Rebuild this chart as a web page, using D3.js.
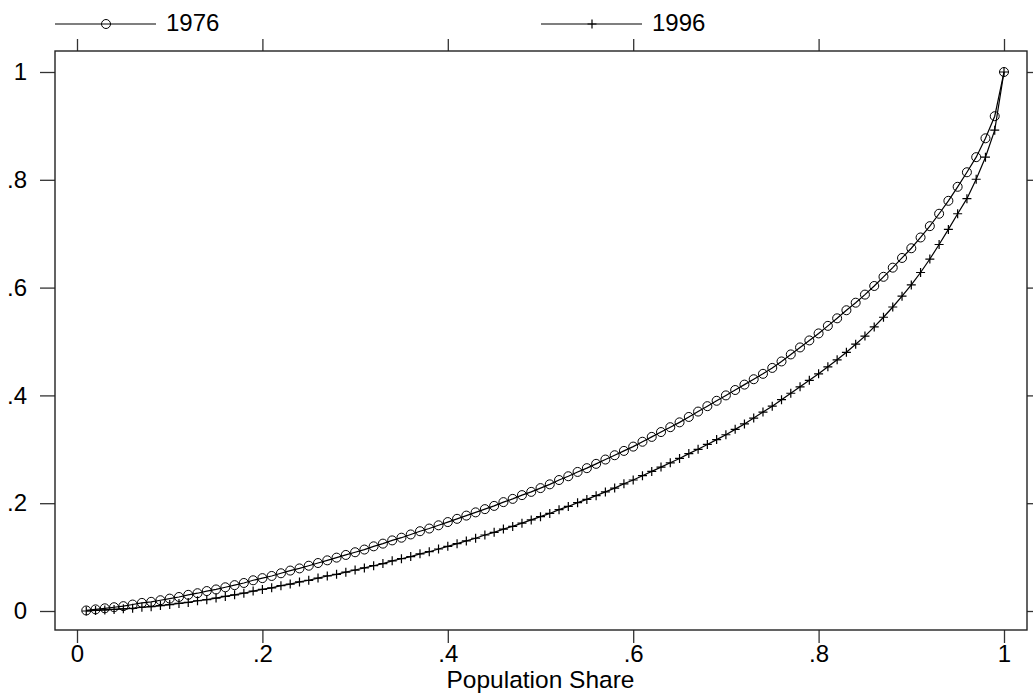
<!DOCTYPE html>
<html>
<head>
<meta charset="utf-8">
<script src="https://cdn.jsdelivr.net/npm/d3@7/dist/d3.min.js"></script>
<style>
  body { margin: 0; background: #fff; }
  text { font-family: "Liberation Sans", Arial, sans-serif; fill: #000; }
</style>
</head>
<body>
<div id="chart"></div>
<script>
// population shares, 0.01 .. 1.00
var popShare = d3.range(1, 101).map(function(i) { return i / 100; });

var share1976 = [
  .001, .003, .005, .007, .009, .012, .015, .017, .020, .023,
  .026, .030, .033, .037, .040, .044, .048, .052, .057, .061,
  .065, .070, .075, .079, .084, .089, .094, .099, .104, .109,
  .114, .120, .125, .131, .136, .142, .148, .153, .159, .165,
  .171, .177, .183, .189, .195, .202, .208, .215, .221, .228,
  .235, .243, .250, .258, .265, .273, .281, .289, .297, .305,
  .314, .323, .332, .341, .350, .360, .370, .380, .390, .400,
  .410, .420, .430, .440, .451, .463, .476, .489, .502, .515,
  .529, .543, .558, .572, .587, .603, .620, .637, .655, .673,
  .693, .714, .737, .761, .787, .814, .842, .877, .918, 1.000
];

var share1996 = [
  .000, .001, .002, .003, .004, .005, .007, .008, .010, .012,
  .014, .016, .019, .021, .024, .027, .030, .033, .037, .040,
  .043, .047, .050, .054, .057, .061, .065, .068, .072, .076,
  .080, .084, .088, .093, .097, .101, .106, .110, .115, .120,
  .125, .130, .135, .141, .146, .152, .157, .163, .169, .175,
  .181, .188, .194, .201, .207, .214, .221, .228, .236, .243,
  .251, .259, .267, .275, .283, .292, .300, .309, .318, .327,
  .337, .347, .358, .369, .380, .392, .404, .416, .428, .440,
  .453, .466, .480, .495, .510, .527, .545, .564, .584, .605,
  .628, .653, .680, .708, .737, .765, .801, .842, .892, 1.000
];

var seriesNames = ['1976', '1996'];
var tickVals = [0, .2, .4, .6, .8, 1];
var xTitle = 'Population Share';

var W = 1033, H = 696;
var box = {left: 55, right: 1027, top: 51, bottom: 630};

var svg = d3.select('#chart')
    .append('svg')
    .attr('width', W)
    .attr('height', H);

var x = d3.scaleLinear().domain([0, 1]).range([77, 1004]);
var y = d3.scaleLinear().domain([0, 1]).range([611, 72]);

var fmt = function(v) {
	return String(+v.toFixed(2)).replace(/^0\./, '.');
};

var styleAxis = function(g) {
	g.select('.domain').remove();
	g.selectAll('.tick line').attr('stroke', '#333').attr('stroke-width', 1.3);
	g.selectAll('.tick text')
		.style('font-family', '"Liberation Sans", Arial, sans-serif')
		.style('font-size', '24px')
		.attr('fill', '#000');
};

svg.append('g')
	.attr('transform', 'translate(' + box.left + ',0)')
	.call(d3.axisLeft(y).tickValues(tickVals).tickFormat(fmt).tickSize(15).tickPadding(13))
	.call(styleAxis);

svg.append('g')
	.attr('transform', 'translate(0,' + box.bottom + ')')
	.call(d3.axisBottom(x).tickValues(tickVals).tickFormat(fmt).tickSize(13).tickPadding(2))
	.call(styleAxis);

svg.append('g')
	.attr('transform', 'translate(0,' + box.top + ')')
	.call(d3.axisTop(x).tickValues(tickVals).tickFormat('').tickSize(12))
	.call(styleAxis);

svg.append('g')
	.attr('transform', 'translate(' + box.right + ',0)')
	.call(d3.axisRight(y).tickValues(tickVals).tickFormat('').tickSize(10))
	.call(styleAxis);

// plot region box
svg.append('rect')
	.attr('x', box.left)
	.attr('y', box.top)
	.attr('width', box.right - box.left)
	.attr('height', box.bottom - box.top)
	.attr('fill', 'none')
	.attr('stroke', '#222')
	.attr('stroke-width', 1.4);

svg.append('text')
	.attr('x', (x(0) + x(1)) / 2)
	.attr('y', 688)
	.attr('text-anchor', 'middle')
	.style('font-size', '24.5px')
	.text(xTitle);

var line = d3.line()
	.x(function(d) { return x(d[0]); })
	.y(function(d) { return y(d[1]); });

var drawCircle = function(g, cx, cy) {
	g.append('circle')
		.attr('cx', cx)
		.attr('cy', cy)
		.attr('r', 4.5)
		.attr('fill', 'none')
		.attr('stroke', '#000')
		.attr('stroke-width', 1);
};

var drawPlus = function(g, cx, cy) {
	g.append('path')
		.attr('d', 'M' + (cx - 4.5) + ',' + cy + 'H' + (cx + 4.5) + 'M' + cx + ',' + (cy - 4.5) + 'V' + (cy + 4.5))
		.attr('fill', 'none')
		.attr('stroke', '#000')
		.attr('stroke-width', 1.2);
};

var series = [
	{name: seriesNames[0], vals: share1976, mark: drawCircle},
	{name: seriesNames[1], vals: share1996, mark: drawPlus}
];

series.forEach(function(s) {
	var pts = popShare.map(function(p, i) { return [p, s.vals[i]]; });
	var g = svg.append('g').attr('class', 'series');
	g.append('path')
		.datum(pts)
		.attr('d', line)
		.attr('fill', 'none')
		.attr('stroke', '#000')
		.attr('stroke-width', 1.2);
	pts.forEach(function(d) {
		s.mark(g, x(d[0]), y(d[1]));
	});
});

// legend
var legendX = [55, 541];
series.forEach(function(s, i) {
	var g = svg.append('g').attr('class', 'legend');
	var x0 = legendX[i];
	g.append('line')
		.attr('x1', x0)
		.attr('x2', x0 + 101)
		.attr('y1', 24)
		.attr('y2', 24)
		.attr('stroke', '#000')
		.attr('stroke-width', 1.2);
	s.mark(g, x0 + 51, 24);
	g.append('text')
		.attr('x', x0 + 111)
		.attr('y', 31)
		.style('font-size', '24px')
		.text(s.name);
});
</script>
</body>
</html>
